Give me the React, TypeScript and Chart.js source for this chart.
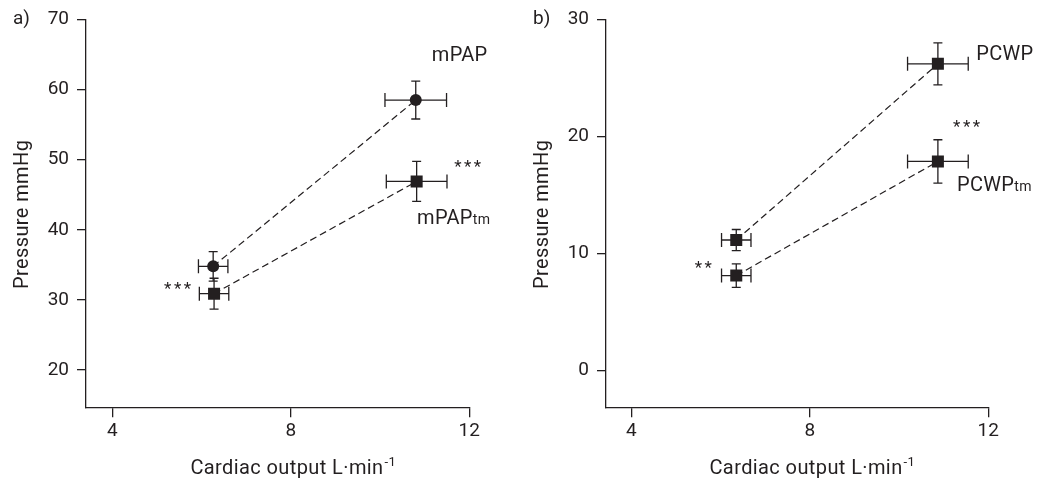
import React, { useEffect, useRef } from "react";
import { Chart, registerables } from "chart.js";

Chart.register(...registerables);

const FONT = "Roboto";
const INK = "#231f20";

// Axis ticks
const xTicks = [4, 8, 12];
const yTicksA = [20, 30, 40, 50, 60, 70];
const yTicksB = [0, 10, 20, 30];

// Panel a) mPAP
const mpapX = [6.26, 10.8];
const mpapY = [34.8, 58.5];
const mpapXErr = [0.33, 0.69];
const mpapYErr = [2.1, 2.7];

// Panel a) mPAPtm
const mpapTmX = [6.28, 10.82];
const mpapTmY = [30.9, 46.9];
const mpapTmXErr = [0.33, 0.68];
const mpapTmYErr = [2.2, 2.85];

// Panel b) PCWP
const pcwpX = [6.35, 10.87];
const pcwpY = [11.14, 26.2];
const pcwpXErr = [0.33, 0.68];
const pcwpYErr = [0.9, 1.8];

// Panel b) PCWPtm
const pcwpTmX = [6.35, 10.87];
const pcwpTmY = [8.1, 17.86];
const pcwpTmXErr = [0.33, 0.68];
const pcwpTmYErr = [1.0, 1.85];

type Series = {
  label: string;
  x: number[];
  y: number[];
  xErr: number[];
  yErr: number[];
  style: "circle" | "rect";
};

type Note = { text: string; sub?: string; x: number; y: number; align: "left" | "right" };

type PanelCfg = {
  tag: string;
  series: Series[];
  notes: Note[];
  yTicks: number[];
  xMin: number;
  yMin: number;
  yMax: number;
  yAxisWidth: number;
  padRight: number;
};

const panelA: PanelCfg = {
  tag: "a)",
  series: [
    { label: "mPAP", x: mpapX, y: mpapY, xErr: mpapXErr, yErr: mpapYErr, style: "circle" },
    { label: "mPAPtm", x: mpapTmX, y: mpapTmY, xErr: mpapTmXErr, yErr: mpapTmYErr, style: "rect" },
  ],
  notes: [
    { text: "mPAP", x: 11.16, y: 64.0, align: "left" },
    { text: "mPAP", sub: "tm", x: 10.83, y: 40.9, align: "left" },
    { text: "***", x: 11.66, y: 48.3, align: "left" },
    { text: "***", x: 5.82, y: 30.8, align: "right" },
  ],
  yTicks: yTicksA,
  xMin: 3.41,
  yMin: 14.7,
  yMax: 70,
  yAxisWidth: 86,
  padRight: 58.7,
};

const panelB: PanelCfg = {
  tag: "b)",
  series: [
    { label: "PCWP", x: pcwpX, y: pcwpY, xErr: pcwpXErr, yErr: pcwpYErr, style: "rect" },
    { label: "PCWPtm", x: pcwpTmX, y: pcwpTmY, xErr: pcwpTmXErr, yErr: pcwpTmYErr, style: "rect" },
  ],
  notes: [
    { text: "PCWP", x: 11.73, y: 26.53, align: "left" },
    { text: "PCWP", sub: "tm", x: 11.3, y: 15.29, align: "left" },
    { text: "***", x: 11.21, y: 20.4, align: "left" },
    { text: "**", x: 5.86, y: 8.3, align: "right" },
  ],
  yTicks: yTicksB,
  xMin: 3.43,
  yMin: -3.16,
  yMax: 30,
  yAxisWidth: 78,
  padRight: 67.7,
};

const W = 528;
const H = 483;

function drawRich(
  ctx: CanvasRenderingContext2D,
  text: string,
  sub: string | undefined,
  x: number,
  y: number,
  align: "left" | "right"
) {
  const isStars = /^\*+$/.test(text);
  const mainFont = isStars ? `17px ${FONT}` : `20px ${FONT}`;
  (ctx as any).letterSpacing = isStars ? "2.5px" : "0.3px";
  ctx.font = mainFont;
  const w1 = ctx.measureText(text).width;
  let w2 = 0;
  if (sub) {
    ctx.font = `14px ${FONT}`;
    w2 = ctx.measureText(sub).width;
  }
  const total = w1 + w2;
  const x0 = align === "left" ? x : x - total;
  ctx.textAlign = "left";
  ctx.textBaseline = "alphabetic";
  ctx.font = mainFont;
  ctx.fillText(text, x0, y);
  if (sub) {
    ctx.font = `14px ${FONT}`;
    ctx.fillText(sub, x0 + w1, y);
  }
  (ctx as any).letterSpacing = "0px";
}

function Panel({ cfg, left }: { cfg: PanelCfg; left: number }) {
  const ref = useRef<HTMLCanvasElement | null>(null);

  useEffect(() => {
    if (!ref.current) return;

    const extras = {
      id: "extras",
      beforeDatasetsDraw(chart: any) {
        const ctx = chart.ctx as CanvasRenderingContext2D;
        const xs = chart.scales.x;
        const ys = chart.scales.y;
        ctx.save();
        ctx.strokeStyle = INK;
        ctx.lineWidth = 1.3;
        cfg.series.forEach((s) => {
          s.x.forEach((xv, i) => {
            const px = xs.getPixelForValue(xv);
            const py = ys.getPixelForValue(s.y[i]);
            const x1 = xs.getPixelForValue(xv - s.xErr[i]);
            const x2 = xs.getPixelForValue(xv + s.xErr[i]);
            const y1 = ys.getPixelForValue(s.y[i] + s.yErr[i]);
            const y2 = ys.getPixelForValue(s.y[i] - s.yErr[i]);
            ctx.beginPath();
            ctx.moveTo(x1, py);
            ctx.lineTo(x2, py);
            ctx.moveTo(x1, py - 7);
            ctx.lineTo(x1, py + 7);
            ctx.moveTo(x2, py - 7);
            ctx.lineTo(x2, py + 7);
            ctx.moveTo(px, y1);
            ctx.lineTo(px, y2);
            ctx.moveTo(px - 4.5, y1);
            ctx.lineTo(px + 4.5, y1);
            ctx.moveTo(px - 4.5, y2);
            ctx.lineTo(px + 4.5, y2);
            ctx.stroke();
          });
        });
        ctx.restore();
      },
      afterDraw(chart: any) {
        const ctx = chart.ctx as CanvasRenderingContext2D;
        const xs = chart.scales.x;
        const ys = chart.scales.y;
        const area = chart.chartArea;
        ctx.save();
        ctx.fillStyle = INK;
        // annotations
        cfg.notes.forEach((n) => {
          drawRich(ctx, n.text, n.sub, xs.getPixelForValue(n.x), ys.getPixelForValue(n.y), n.align);
        });
        // panel tag
        ctx.font = `19px ${FONT}`;
        ctx.textAlign = "left";
        ctx.textBaseline = "middle";
        ctx.fillText(cfg.tag, area.left - 73, area.top);
        // y title
        (ctx as any).letterSpacing = "0.4px";
        ctx.save();
        ctx.translate(area.left - 63, (area.top + area.bottom) / 2 + 1);
        ctx.rotate(-Math.PI / 2);
        ctx.textAlign = "center";
        ctx.textBaseline = "middle";
        ctx.font = `20px ${FONT}`;
        ctx.fillText("Pressure mmHg", 0, 0);
        ctx.restore();
        // x title with superscript
        const main = "Cardiac output L·min";
        const sup = "-1";
        ctx.font = `20px ${FONT}`;
        const wm = ctx.measureText(main).width;
        ctx.font = `13px ${FONT}`;
        const ws = ctx.measureText(sup).width;
        const cx = xs.getPixelForValue(8) + 2;
        const x0 = cx - (wm + ws) / 2;
        const by = 474;
        ctx.textAlign = "left";
        ctx.textBaseline = "alphabetic";
        ctx.font = `20px ${FONT}`;
        ctx.fillText(main, x0, by);
        ctx.font = `13px ${FONT}`;
        ctx.fillText(sup, x0 + wm + 1, by - 8);
        (ctx as any).letterSpacing = "0px";
        ctx.restore();
      },
    };

    const chart = new Chart(ref.current, {
      type: "scatter",
      data: {
        datasets: cfg.series.map((s) => ({
          label: s.label,
          data: s.x.map((xv, i) => ({ x: xv, y: s.y[i] })),
          showLine: true,
          borderColor: INK,
          borderWidth: 1.2,
          borderDash: [7, 4],
          pointStyle: s.style,
          pointRadius: s.style === "circle" ? 6 : 8.5,
          pointHoverRadius: s.style === "circle" ? 6 : 8.5,
          pointBackgroundColor: INK,
          pointBorderColor: INK,
          pointBorderWidth: 0,
        })),
      },
      options: {
        responsive: false,
        animation: false,
        events: [],
        layout: { padding: { left: 0, right: cfg.padRight, top: 15.7, bottom: 0 } },
        plugins: {
          legend: { display: false },
          tooltip: { enabled: false },
          title: { display: false },
        },
        scales: {
          x: {
            type: "linear",
            min: cfg.xMin,
            max: 12,
            afterBuildTicks: (scale: any) => {
              scale.ticks = xTicks.map((v) => ({ value: v }));
            },
            afterFit: (scale: any) => {
              scale.height = H - 407.3;
            },
            grid: {
              display: true,
              drawOnChartArea: false,
              drawTicks: true,
              tickLength: 10,
              color: INK,
              lineWidth: 1.3,
            },
            border: { display: true, color: INK, width: 1.3 },
            ticks: {
              color: INK,
              font: { family: FONT, size: 19 },
              padding: 3,
              maxRotation: 0,
            },
          },
          y: {
            type: "linear",
            min: cfg.yMin,
            max: cfg.yMax,
            afterBuildTicks: (scale: any) => {
              scale.ticks = cfg.yTicks.map((v) => ({ value: v }));
            },
            afterFit: (scale: any) => {
              scale.width = cfg.yAxisWidth;
            },
            grid: {
              display: true,
              drawOnChartArea: false,
              drawTicks: true,
              tickLength: 9,
              color: INK,
              lineWidth: 1.3,
            },
            border: { display: true, color: INK, width: 1.3 },
            ticks: {
              color: INK,
              font: { family: FONT, size: 19 },
              padding: 8,
            },
          },
        },
      } as any,
      plugins: [extras],
    });

    return () => chart.destroy();
  }, [cfg]);

  return (
    <div style={{ position: "absolute", left, top: 0, width: W, height: H }}>
      <canvas ref={ref} width={W} height={H} style={{ width: W, height: H, display: "block" }} />
    </div>
  );
}

export default function App() {
  return (
    <div
      style={{
        position: "fixed",
        left: 0,
        top: 0,
        width: 1056,
        height: 483,
        background: "#ffffff",
        overflow: "hidden",
      }}
    >
      <Panel cfg={panelA} left={0} />
      <Panel cfg={panelB} left={528} />
    </div>
  );
}
